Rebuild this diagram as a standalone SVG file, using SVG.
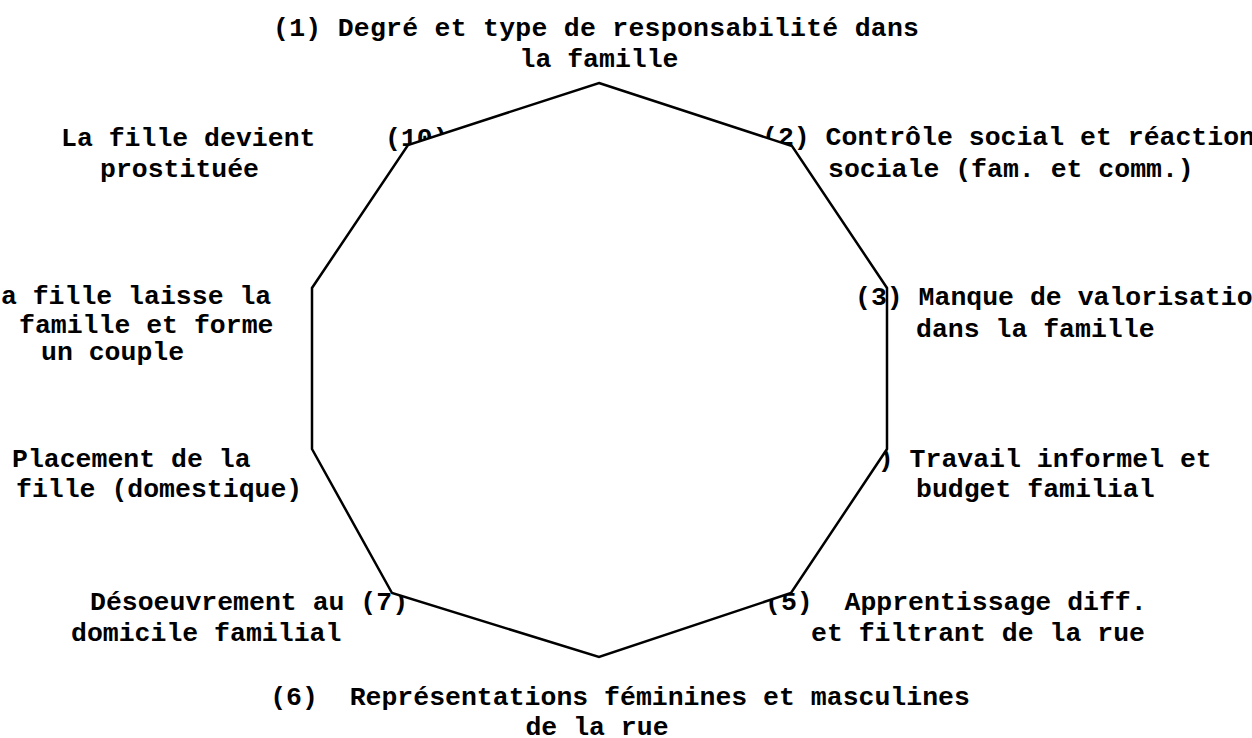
<svg xmlns="http://www.w3.org/2000/svg" width="1252" height="738" viewBox="0 0 1252 738">
<style>
text{font-family:"Liberation Mono","Courier New",monospace;font-weight:bold;font-size:26.5px;fill:#000;white-space:pre}
.m{text-anchor:middle}
.shape{fill:#fff;stroke:#000;stroke-width:2.5;stroke-linejoin:miter}
</style>
<rect width="1252" height="738" fill="#fff"/>
<g id="node1"><text class="m" x="596" y="36" textLength="646" lengthAdjust="spacing">(1) Degré et type de responsabilité dans</text><text class="m" x="599" y="67">la famille</text></g>
<g id="node2"><text x="762" y="145">(2) Contrôle social et réaction</text><text x="828" y="177">sociale (fam. et comm.)</text></g>
<g id="node4"><text x="846" y="467">(4) Travail informel et</text><text x="916" y="497">budget familial</text></g>
<g id="node5"><text x="765" y="610" xml:space="preserve">(5)  Apprentissage diff.</text><text x="811" y="641">et filtrant de la rue</text></g>
<g id="node6"><text class="m" x="620" y="705" xml:space="preserve">(6)  Représentations féminines et masculines</text><text class="m" x="597" y="735">de la rue</text></g>
<g id="node7"><text x="90" y="610">Désoeuvrement au (7)</text><text x="71" y="641">domicile familial</text></g>
<g id="node8"><text x="12" y="467">Placement de la</text><text x="16" y="497">fille (domestique)</text></g>
<g id="node9"><text x="-15" y="304">La fille laisse la</text><text x="19" y="333">famille et forme</text><text x="41" y="360">un couple</text></g>
<g id="node10"><text x="61" y="146">La fille devient</text><text x="100" y="177">prostituée</text><text x="385" y="146">(10)</text></g>
<g id="connectors"><polygon class="shape" points="599,83 792,146 887,288 887,449 791,593 599,657 392,593 312,449 312,288 408,145"/></g>
<g id="node3"><text x="855" y="305">(3) Manque de valorisation</text><text x="916" y="337">dans la famille</text></g>
</svg>
